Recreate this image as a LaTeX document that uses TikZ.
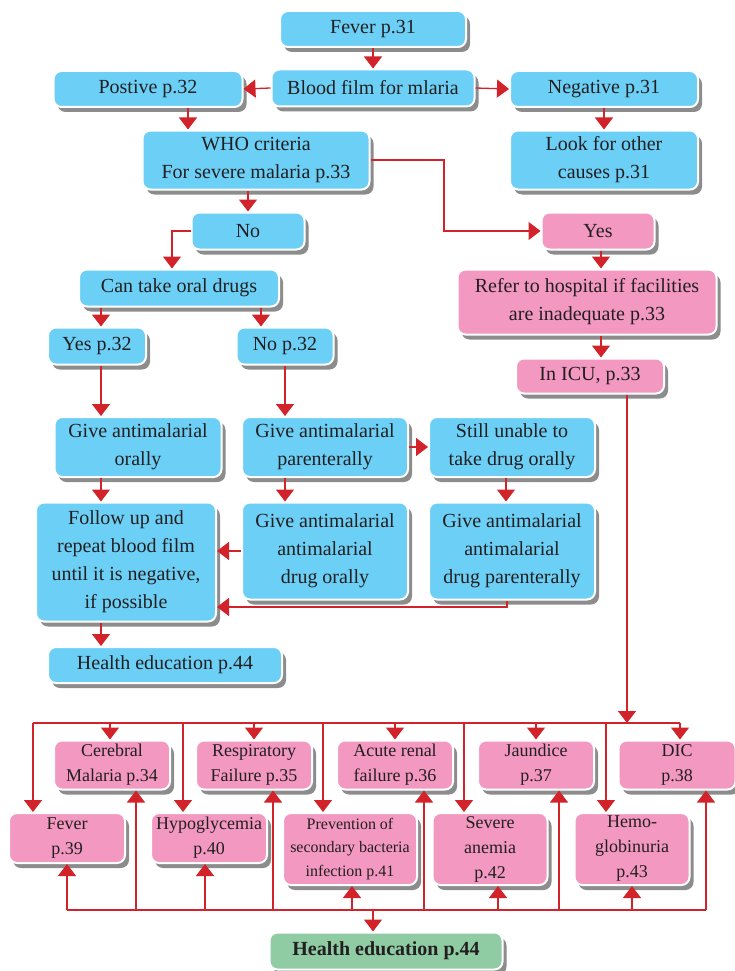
\documentclass[tikz,border=0pt]{standalone}
\usepackage{fontspec}
\setmainfont{Liberation Serif}
\usepackage{tikz}
\usetikzlibrary{arrows.meta,shadows}

\definecolor{boxblue}{RGB}{107,207,246}
\definecolor{boxpink}{RGB}{243,152,193}
\definecolor{boxgreen}{RGB}{143,204,164}
\definecolor{linered}{RGB}{210,35,42}
\definecolor{textgray}{RGB}{35,31,32}

\begin{document}
\begin{tikzpicture}[
    x=1pt, y=-1pt,
    block/.style={rectangle, draw=white, line width=2pt, rounded corners=8pt, align=center, inner sep=2pt,
        text=textgray, font=\fontsize{20}{28}\selectfont,
        drop shadow={shadow xshift=4pt, shadow yshift=-5pt, fill=black, opacity=0.45}},
    blue/.style={block, fill=boxblue},
    pink/.style={block, fill=boxpink},
    comp/.style={pink, minimum width=116pt, minimum height=49pt, font=\fontsize{18}{25}\selectfont},
    arrow/.style={draw=linered, line width=1.3pt, -{Triangle[width=18pt,length=12pt]}},
    line/.style={draw=linered, line width=1.3pt}
]
\useasboundingbox (0,0) rectangle (735,971);

% Top part
\node[blue, minimum width=186pt, minimum height=36pt] (fever) at (373,29) {Fever p.31};
\node[blue, minimum width=203pt, minimum height=37pt] (blood) at (373,88) {Blood film for mlaria};
\node[blue, minimum width=189pt, minimum height=36pt] (pos) at (148,89) {Postive p.32};
\node[blue, minimum width=188pt, minimum height=36pt] (neg) at (604,89) {Negative p.31};
\node[blue, minimum width=227pt, minimum height=59pt] (who) at (256,160) {WHO criteria\\For severe malaria p.33};
\node[blue, minimum width=188pt, minimum height=59pt] (look) at (604,160) {Look for other\\causes p.31};

% Uncomplicated branch
\node[blue, minimum width=113pt, minimum height=37pt] (no) at (248,231) {No};
\node[blue, minimum width=200pt, minimum height=37pt] (cantake) at (179,288) {Can take oral drugs};
\node[blue, minimum width=98pt, minimum height=37pt] (yesoral) at (97,346) {Yes p.32};
\node[blue, minimum width=97pt, minimum height=37pt] (nooral) at (285,346) {No p.32};
\node[blue, minimum width=167pt, minimum height=60pt] (giveoral) at (138,447) {Give antimalarial\\orally};
\node[blue, minimum width=166pt, minimum height=60pt] (givepar) at (325,447) {Give antimalarial\\parenterally};
\node[blue, minimum width=166pt, minimum height=60pt] (still) at (512,447) {Still unable to\\take drug orally};
\node[blue, minimum width=180pt, minimum height=119pt] (follow) at (126,562) {Follow up and\\repeat blood film\\until it is negative,\\if possible};
\node[blue, minimum width=166pt, minimum height=97pt] (drugoral) at (325,551) {Give antimalarial\\antimalarial\\drug orally};
\node[blue, minimum width=166pt, minimum height=97pt] (drugpar) at (512,551) {Give antimalarial\\antimalarial\\drug parenterally};
\node[blue, minimum width=234pt, minimum height=36pt] (healthone) at (165,665) {Health education p.44};

% Severe branch
\node[pink, minimum width=113pt, minimum height=37pt] (yes) at (598,231) {Yes};
\node[pink, minimum width=259pt, minimum height=65pt] (refer) at (587,302) {Refer to hospital if facilities\\are inadequate p.33};
\node[pink, minimum width=148pt, minimum height=35pt] (icu) at (590,376) {In ICU, p.33};

% Complications, upper row
\node[comp] (cerebral) at (112,765) {Cerebral\\Malaria p.34};
\node[comp] (resp) at (254,765) {Respiratory\\Failure p.35};
\node[comp] (renal) at (395,765) {Acute renal\\failure p.36};
\node[comp] (jaundice) at (536,765) {Jaundice\\p.37};
\node[comp, minimum width=117pt] (dic) at (677,765) {DIC\\p.38};

% Complications, lower row
\node[comp, minimum height=50pt] (fevertwo) at (67,838) {Fever\\p.39};
\node[comp, minimum height=50pt] (hypo) at (209,838) {Hypoglycemia\\p.40};
\node[comp, minimum width=134pt, minimum height=72pt, font=\fontsize{16}{23.5}\selectfont] (prevent) at (350,849) {Prevention of\\secondary bacteria\\infection p.41};
\node[comp, minimum width=115pt, minimum height=72pt] (anemia) at (490,849) {Severe\\anemia\\p.42};
\node[comp, minimum width=115pt, minimum height=72pt] (hemo) at (632,849) {Hemo-\\globinuria\\p.43};

\node[block, fill=boxgreen, minimum width=233pt, minimum height=37pt, font=\fontsize{20}{24}\selectfont\bfseries] (healthtwo) at (386,951) {Health education p.44};

\coordinate (bend) at (444,160);
\coordinate (topbus) at (627,723);
\coordinate (lowbus) at (373,910);

% Arrows - top part
\draw[arrow] (fever) -- (blood);
\draw[arrow] (blood.west) -- (pos.east);
\draw[arrow] (blood.east) -- (neg.west);
\draw[arrow] (neg) -- (look);
\draw[arrow] ([xshift=40pt]pos.south) -- ([xshift=40pt]pos.south |- who.north);
\draw[arrow] (who.east) -- (bend) |- (yes.west);
\draw[arrow] (no.north |- who.south) -- (no.north);

% Arrows - uncomplicated branch
\draw[arrow] (no.west) -| ([xshift=-7pt]cantake.north);
\draw[arrow] ([xshift=4pt]yesoral.north |- cantake.south) -- ([xshift=4pt]yesoral.north);
\draw[arrow] ([xshift=-24pt]nooral.north |- cantake.south) -- ([xshift=-24pt]nooral.north);
\draw[arrow] ([xshift=4pt]yesoral.south) -- ([xshift=4pt]yesoral.south |- giveoral.north);
\draw[arrow] (nooral.south) -- (nooral.south |- givepar.north);
\draw[arrow] (givepar.east) -- (still.west);
\draw[arrow] ([xshift=-37pt]giveoral.south) -- ([xshift=-37pt]giveoral.south |- follow.north);
\draw[arrow] (nooral.south |- givepar.south) -- (nooral.south |- drugoral.north);
\draw[arrow] ([xshift=-6pt]still.south) -- ([xshift=-6pt]drugpar.north);
\draw[arrow] (drugoral.west) -- (follow.east |- drugoral.west);
\draw[arrow] ([xshift=-5pt]drugpar.south) |- ([yshift=-45pt]follow.east);
\draw[arrow] ([xshift=-25pt]follow.south) -- ([xshift=-25pt]follow.south |- healthone.north);

% Arrows - severe branch
\draw[arrow] ([xshift=3pt]yes.south) -- ([xshift=3pt]yes.south |- refer.north);
\draw[arrow] ([xshift=11pt]icu.north |- refer.south) -- ([xshift=11pt]icu.north);
\draw[arrow] ([xshift=37pt]icu.south) -- (topbus);

% Top bus to complications
\draw[line] ([xshift=-34pt]fevertwo.north |- topbus) -- ([xshift=3pt]dic.north |- topbus);
\draw[arrow] ([xshift=-34pt]fevertwo.north |- topbus) -- ([xshift=-34pt]fevertwo.north);
\draw[arrow] ([xshift=-2pt]cerebral.north |- topbus) -- ([xshift=-2pt]cerebral.north);
\draw[arrow] ([xshift=-26pt]hypo.north |- topbus) -- ([xshift=-26pt]hypo.north);
\draw[arrow] (resp.north |- topbus) -- (resp.north);
\draw[arrow] ([xshift=-27pt]prevent.north |- topbus) -- ([xshift=-27pt]prevent.north);
\draw[arrow] (renal.north |- topbus) -- (renal.north);
\draw[arrow] ([xshift=-26pt]anemia.north |- topbus) -- ([xshift=-26pt]anemia.north);
\draw[arrow] (jaundice.north |- topbus) -- (jaundice.north);
\draw[arrow] ([xshift=-26pt]hemo.north |- topbus) -- ([xshift=-26pt]hemo.north);
\draw[arrow] ([xshift=3pt]dic.north |- topbus) -- ([xshift=3pt]dic.north);

% Lower bus to complications and health education
\draw[line] (fevertwo.south |- lowbus) -- ([xshift=29pt]dic.south |- lowbus);
\draw[arrow] (fevertwo.south |- lowbus) -- (fevertwo.south);
\draw[arrow] ([xshift=24pt]cerebral.south |- lowbus) -- ([xshift=24pt]cerebral.south);
\draw[arrow] ([xshift=-4pt]hypo.south |- lowbus) -- ([xshift=-4pt]hypo.south);
\draw[arrow] ([xshift=19pt]resp.south |- lowbus) -- ([xshift=19pt]resp.south);
\draw[arrow] ([xshift=2pt]prevent.south |- lowbus) -- ([xshift=2pt]prevent.south);
\draw[arrow] ([xshift=29pt]renal.south |- lowbus) -- ([xshift=29pt]renal.south);
\draw[arrow] ([xshift=8pt]anemia.south |- lowbus) -- ([xshift=8pt]anemia.south);
\draw[arrow] ([xshift=23pt]jaundice.south |- lowbus) -- ([xshift=23pt]jaundice.south);
\draw[arrow] (hemo.south |- lowbus) -- (hemo.south);
\draw[arrow] ([xshift=29pt]dic.south |- lowbus) -- ([xshift=29pt]dic.south);
\draw[arrow] (lowbus) -- (lowbus |- healthtwo.north);
\end{tikzpicture}
\end{document}
